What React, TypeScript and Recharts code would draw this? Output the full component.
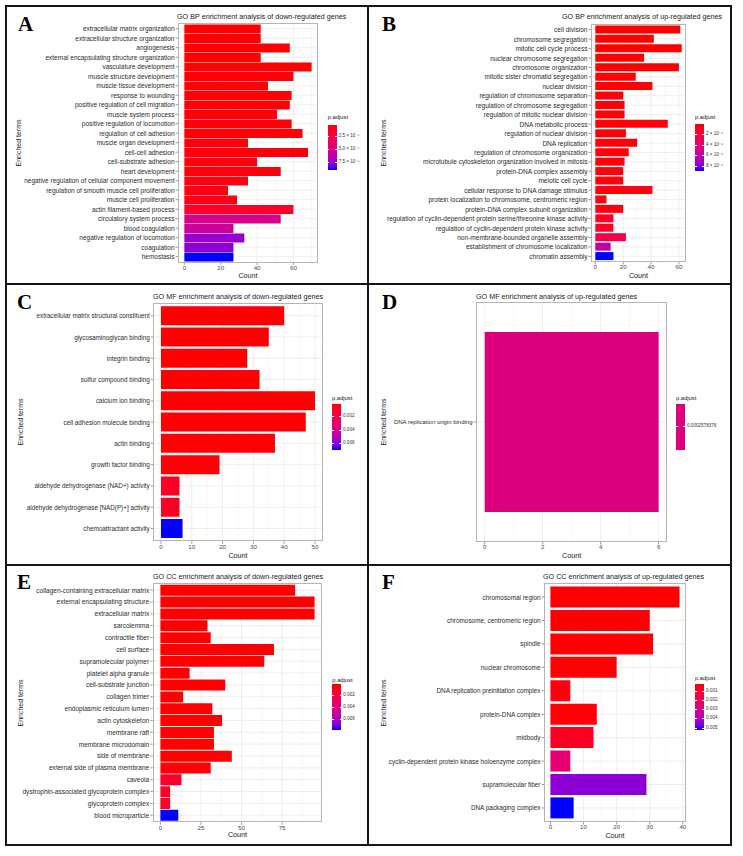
import { BarChart, Bar, XAxis, YAxis, CartesianGrid, Cell } from "recharts";

const SANS = '"Liberation Sans", Arial, Helvetica, sans-serif';
const SERIF = '"Liberation Serif", "Times New Roman", serif';

// A: GO BP, down-regulated
const bpDownTerms = [
  "extracellular matrix organization",
  "extracellular structure organization",
  "angiogenesis",
  "external encapsulating structure organization",
  "vasculature development",
  "muscle structure development",
  "muscle tissue development",
  "response to wounding",
  "positive regulation of cell migration",
  "muscle system process",
  "positive regulation of locomotion",
  "regulation of cell adhesion",
  "muscle organ development",
  "cell-cell adhesion",
  "cell-substrate adhesion",
  "heart development",
  "negative regulation of cellular component movement",
  "regulation of smooth muscle cell proliferation",
  "muscle cell proliferation",
  "actin filament-based process",
  "circulatory system process",
  "blood coagulation",
  "negative regulation of locomotion",
  "coagulation",
  "hemostasis",
];
const bpDownCounts = [42, 42, 58, 42, 70, 60, 46, 59, 58, 51, 59, 65, 35, 68, 40, 53, 35, 24, 29, 60, 53, 27, 33, 27, 27];
const bpDownPadj = [
  0.4e-5, 0.4e-5, 0.45e-5, 0.45e-5, 0.5e-5, 0.5e-5, 0.55e-5, 0.55e-5, 0.6e-5, 0.6e-5, 0.65e-5, 0.65e-5, 0.7e-5,
  0.7e-5, 0.75e-5, 0.75e-5, 0.8e-5, 0.95e-5, 1.0e-5, 1.7e-5, 5.1e-5, 5.6e-5, 7.45e-5, 7.7e-5, 9.0e-5,
];
const bpDownTicks = [0, 20, 40, 60];
const bpDownLegendValues = [2.5e-5, 5.0e-5, 7.5e-5];
const bpDownLegendLabels = ["2.5 × 10⁻⁵", "5.0 × 10⁻⁵", "7.5 × 10⁻⁵"];

// B: GO BP, up-regulated
const bpUpTerms = [
  "cell division",
  "chromosome segregation",
  "mitotic cell cycle process",
  "nuclear chromosome segregation",
  "chromosome organization",
  "mitotic sister chromatid segregation",
  "nuclear division",
  "regulation of chromosome separation",
  "regulation of chromosome segregation",
  "regulation of mitotic nuclear division",
  "DNA metabolic process",
  "regulation of nuclear division",
  "DNA replication",
  "regulation of chromosome organization",
  "microtubule cytoskeleton organization involved in mitosis",
  "protein-DNA complex assembly",
  "meiotic cell cycle",
  "cellular response to DNA damage stimulus",
  "protein localization to chromosome, centromeric region",
  "protein-DNA complex subunit organization",
  "regulation of cyclin-dependent protein serine/threonine kinase activity",
  "regulation of cyclin-dependent protein kinase activity",
  "non-membrane-bounded organelle assembly",
  "establishment of chromosome localization",
  "chromatin assembly",
];
const bpUpCounts = [61, 42, 62, 35, 60, 29, 41, 20, 21, 21, 52, 22, 30, 24, 21, 20, 20, 41, 8, 20, 13, 13, 22, 11, 13];
const bpUpPadj = [
  0.1e-6, 0.12e-6, 0.12e-6, 0.15e-6, 0.15e-6, 0.2e-6, 0.2e-6, 0.25e-6, 0.25e-6, 0.3e-6, 0.3e-6, 0.35e-6, 0.35e-6,
  0.4e-6, 0.4e-6, 0.45e-6, 0.45e-6, 0.5e-6, 0.5e-6, 0.55e-6, 1.4e-6, 1.4e-6, 2.6e-6, 5.9e-6, 8.9e-6,
];
const bpUpTicks = [0, 20, 40, 60];
const bpUpLegendValues = [2e-6, 4e-6, 6e-6, 8e-6];
const bpUpLegendLabels = ["2 × 10⁻⁶", "4 × 10⁻⁶", "6 × 10⁻⁶", "8 × 10⁻⁶"];

// C: GO MF, down-regulated
const mfDownTerms = [
  "extracellular matrix structural constituent",
  "glycosaminoglycan binding",
  "integrin binding",
  "sulfur compound binding",
  "calcium ion binding",
  "cell adhesion molecule binding",
  "actin binding",
  "growth factor binding",
  "aldehyde dehydrogenase (NAD+) activity",
  "aldehyde dehydrogenase [NAD(P)+] activity",
  "chemoattractant activity",
];
const mfDownCounts = [40, 35, 28, 32, 50, 47, 37, 19, 6, 6, 7];
const mfDownPadj = [0.00002, 0.00003, 0.00005, 0.00006, 0.00008, 0.0001, 0.00012, 0.00015, 0.00085, 0.00085, 0.0071];
const mfDownTicks = [0, 10, 20, 30, 40, 50];
const mfDownLegendValues = [0.002, 0.004, 0.006];
const mfDownLegendLabels = ["0.002", "0.004", "0.006"];

// D: GO MF, up-regulated
const mfUpTerms = ["DNA replication origin binding"];
const mfUpCounts = [6];
const mfUpPadj = [0.0002578376];
const mfUpTicks = [0, 2, 4, 6];
const mfUpLegendValues = [0.0002578376];
const mfUpLegendLabels = ["0.0002578376"];

// E: GO CC, down-regulated
const ccDownTerms = [
  "collagen-containing extracellular matrix",
  "external encapsulating structure",
  "extracellular matrix",
  "sarcolemma",
  "contractile fiber",
  "cell surface",
  "supramolecular polymer",
  "platelet alpha granule",
  "cell-substrate junction",
  "collagen trimer",
  "endoplasmic reticulum lumen",
  "actin cytoskeleton",
  "membrane raft",
  "membrane microdomain",
  "side of membrane",
  "external side of plasma membrane",
  "caveola",
  "dystrophin-associated glycoprotein complex",
  "glycoprotein complex",
  "blood microparticle",
];
const ccDownCounts = [83, 95, 95, 29, 31, 70, 64, 18, 40, 14, 32, 38, 33, 33, 44, 31, 13, 6, 6, 11];
const ccDownPadj = [
  0.00026, 0.00026, 0.00027, 0.00028, 0.00028, 0.00029, 0.0003, 0.0003, 0.00031, 0.00032, 0.00033, 0.00034, 0.00035,
  0.00035, 0.00036, 0.00045, 0.0014, 0.0012, 0.0012, 0.0078,
];
const ccDownTicks = [0, 25, 50, 75];
const ccDownLegendValues = [0.002, 0.004, 0.006];
const ccDownLegendLabels = ["0.002", "0.004", "0.006"];

// F: GO CC, up-regulated
const ccUpTerms = [
  "chromosomal region",
  "chromosome, centromeric region",
  "spindle",
  "nuclear chromosome",
  "DNA replication preinitiation complex",
  "protein-DNA complex",
  "midbody",
  "cyclin-dependent protein kinase holoenzyme complex",
  "supramolecular fiber",
  "DNA packaging complex",
];
const ccUpCounts = [39, 30, 31, 20, 6, 14, 13, 6, 29, 7];
const ccUpPadj = [0.00016, 0.00018, 0.0002, 0.00022, 0.00036, 0.00031, 0.00077, 0.0024, 0.00444, 0.0052];
const ccUpTicks = [0, 10, 20, 30, 40];
const ccUpLegendValues = [0.001, 0.002, 0.003, 0.004, 0.005];
const ccUpLegendLabels = ["0.001", "0.002", "0.003", "0.004", "0.005"];

// --- red -> blue gradient, interpolated in Lab (lightness and b* eased)
const toLin = (c: number) => {
  c /= 255;
  return c <= 0.04045 ? c / 12.92 : Math.pow((c + 0.055) / 1.055, 2.4);
};
const fromLin = (c: number) => {
  const v = c <= 0.0031308 ? 12.92 * c : 1.055 * Math.pow(Math.max(c, 0), 1 / 2.4) - 0.055;
  return Math.round(Math.min(1, Math.max(0, v)) * 255);
};
const WX = 0.95047;
const WZ = 1.08883;
function rgbToLab(r: number, g: number, b: number) {
  const R = toLin(r), G = toLin(g), B = toLin(b);
  const x = (0.4124 * R + 0.3576 * G + 0.1805 * B) / WX;
  const y = 0.2126 * R + 0.7152 * G + 0.0722 * B;
  const z = (0.0193 * R + 0.1192 * G + 0.9505 * B) / WZ;
  const f = (t: number) => (t > 0.008856 ? Math.cbrt(t) : 7.787 * t + 16 / 116);
  const fx = f(x), fy = f(y), fz = f(z);
  return [116 * fy - 16, 500 * (fx - fy), 200 * (fy - fz)];
}
function labToCss(L: number, a: number, bb: number) {
  const fy = (L + 16) / 116;
  const fx = fy + a / 500;
  const fz = fy - bb / 200;
  const inv = (t: number) => (t * t * t > 0.008856 ? t * t * t : (t - 16 / 116) / 7.787);
  const x = inv(fx) * WX, y = inv(fy), z = inv(fz) * WZ;
  const R = 3.2406 * x - 1.5372 * y - 0.4986 * z;
  const G = -0.9689 * x + 1.8758 * y + 0.0415 * z;
  const B = 0.0557 * x - 0.204 * y + 1.057 * z;
  return `rgb(${fromLin(R)},${fromLin(G)},${fromLin(B)})`;
}
const LOW = rgbToLab(255, 0, 0);
const HIGH = rgbToLab(0, 0, 255);
function gradColor(t: number) {
  const k = Math.min(1, Math.max(0, t));
  const kl = Math.pow(k, 1.8);
  const kb = Math.pow(k, 1.25);
  return labToCss(LOW[0] + (HIGH[0] - LOW[0]) * kl, LOW[1] + (HIGH[1] - LOW[1]) * k, LOW[2] + (HIGH[2] - LOW[2]) * kb);
}

type Rect = { l: number; r: number; t: number; b: number };
type PanelCfg = {
  id: string;
  letter: string;
  letterX: number;
  letterBase: number;
  title: string;
  titleX: number;
  titleY: number;
  terms: string[];
  counts: number[];
  padj: number[];
  ticks: number[];
  colLeft: number;
  plot: Rect;
  countY: number;
  enrichedX: number;
  labelSize: number;
  legend: { x: number; top: number; bottom: number; titleY: number; values: number[]; labels: string[] };
};

const panels: PanelCfg[] = [
  {
    id: "A", letter: "A", letterX: 18, letterBase: 31,
    title: "GO BP enrichment analysis of down-regulated genes", titleX: 177, titleY: 17,
    terms: bpDownTerms, counts: bpDownCounts, padj: bpDownPadj, ticks: bpDownTicks,
    colLeft: 8, plot: { l: 178, r: 318, t: 23.3, b: 262.7 }, countY: 275.3, enrichedX: 18, labelSize: 6.5,
    legend: { x: 327.7, top: 125, bottom: 170, titleY: 118, values: bpDownLegendValues, labels: bpDownLegendLabels },
  },
  {
    id: "B", letter: "B", letterX: 382, letterBase: 31,
    title: "GO BP enrichment analysis of up-regulated genes", titleX: 562, titleY: 17,
    terms: bpUpTerms, counts: bpUpCounts, padj: bpUpPadj, ticks: bpUpTicks,
    colLeft: 370, plot: { l: 591, r: 686, t: 24, b: 262 }, countY: 275.7, enrichedX: 383, labelSize: 6.55,
    legend: { x: 695, top: 124, bottom: 171, titleY: 118, values: bpUpLegendValues, labels: bpUpLegendLabels },
  },
  {
    id: "C", letter: "C", letterX: 17, letterBase: 309.5,
    title: "GO MF enrichment analysis of down-regulated genes", titleX: 153, titleY: 297,
    terms: mfDownTerms, counts: mfDownCounts, padj: mfDownPadj, ticks: mfDownTicks,
    colLeft: 8, plot: { l: 153.3, r: 322.7, t: 303, b: 541.3 }, countY: 555.7, enrichedX: 20, labelSize: 6.35,
    legend: { x: 332, top: 403.7, bottom: 450.3, titleY: 399, values: mfDownLegendValues, labels: mfDownLegendLabels },
  },
  {
    id: "D", letter: "D", letterX: 382, letterBase: 309,
    title: "GO MF enrichment analysis of up-regulated genes", titleX: 476, titleY: 297,
    terms: mfUpTerms, counts: mfUpCounts, padj: mfUpPadj, ticks: mfUpTicks,
    colLeft: 370, plot: { l: 476, r: 667.3, t: 302, b: 542 }, countY: 555.7, enrichedX: 383, labelSize: 6,
    legend: { x: 676, top: 403.7, bottom: 449.7, titleY: 399, values: mfUpLegendValues, labels: mfUpLegendLabels },
  },
  {
    id: "E", letter: "E", letterX: 17, letterBase: 589,
    title: "GO CC enrichment analysis of down-regulated genes", titleX: 153, titleY: 577,
    terms: ccDownTerms, counts: ccDownCounts, padj: ccDownPadj, ticks: ccDownTicks,
    colLeft: 8, plot: { l: 152.7, r: 322.3, t: 583, b: 822.3 }, countY: 835, enrichedX: 20, labelSize: 6.55,
    legend: { x: 332.3, top: 684.3, bottom: 730, titleY: 680.7, values: ccDownLegendValues, labels: ccDownLegendLabels },
  },
  {
    id: "F", letter: "F", letterX: 382, letterBase: 589,
    title: "GO CC enrichment analysis of up-regulated genes", titleX: 543, titleY: 577,
    terms: ccUpTerms, counts: ccUpCounts, padj: ccUpPadj, ticks: ccUpTicks,
    colLeft: 370, plot: { l: 544, r: 686, t: 583, b: 822 }, countY: 835.7, enrichedX: 383, labelSize: 6.4,
    legend: { x: 695, top: 683.7, bottom: 729.7, titleY: 679, values: ccUpLegendValues, labels: ccUpLegendLabels },
  },
];

// single-line category label (no wrapping)
function TermTick(props: any) {
  const { x, y, payload, size } = props;
  return (
    <text x={x} y={y} textAnchor="end" dominantBaseline="central" fontSize={size} fill="#2b2b2b" fontFamily={SANS}>
      {payload.value}
    </text>
  );
}

function Panel({ cfg }: { cfg: PanelCfg }) {
  const rows = cfg.terms.map((term, i) => ({ term, count: cfg.counts[i], padj: cfg.padj[i] }));
  const lo = Math.min(...cfg.padj);
  const hi = Math.max(...cfg.padj);
  const tOf = (p: number) => (hi > lo ? (p - lo) / (hi - lo) : 0.5);

  const maxCount = Math.max(...cfg.counts);
  const domain: [number, number] = [-0.05 * maxCount, 1.05 * maxCount];
  const step = cfg.ticks[1] - cfg.ticks[0];
  const minor = cfg.ticks.map((v) => v + step / 2).filter((v) => v < domain[1]);

  const { l, r, t, b } = cfg.plot;
  const mTop = 4;
  const axisH = 14;
  const width = r - cfg.colLeft + 3;
  const height = mTop + (b - t) + axisH;
  const band = (b - t) / (rows.length + 0.2);
  const pad = band * 0.1;

  // grid positions follow the chart's plot offset (linear x, banded y)
  const xPos = (off: any, v: number) => off.left + ((v - domain[0]) / (domain[1] - domain[0])) * off.width;
  const yPos = (off: any, i: number) => {
    const bw = (off.height - 2 * pad) / rows.length;
    return off.top + pad + bw * (i + 0.5);
  };

  const lg = cfg.legend;
  const lgH = lg.bottom - lg.top;
  const stops = Array.from({ length: 11 }, (_, i) => `${gradColor(hi > lo ? i / 10 : 0.5)} ${i * 10}%`).join(", ");

  const textBase = { position: "absolute" as const, whiteSpace: "nowrap" as const, fontFamily: SANS, lineHeight: 1 };

  return (
    <>
      <div style={{ position: "absolute", left: cfg.colLeft, top: t - mTop }}>
        <BarChart
          layout="vertical"
          width={width}
          height={height}
          data={rows}
          margin={{ top: mTop, right: 3, bottom: 0, left: 0 }}
          barCategoryGap="5%"
        >
          <CartesianGrid
            horizontal={false}
            stroke="#F3F3F3"
            strokeWidth={0.6}
            verticalCoordinatesGenerator={({ offset }: any) => minor.map((v) => xPos(offset, v))}
          />
          <CartesianGrid
            stroke="#EAEAEA"
            strokeWidth={0.8}
            verticalCoordinatesGenerator={({ offset }: any) => cfg.ticks.map((v) => xPos(offset, v))}
            horizontalCoordinatesGenerator={({ offset }: any) => rows.map((_, i) => yPos(offset, i))}
          />
          <XAxis
            type="number"
            dataKey="count"
            domain={domain}
            ticks={cfg.ticks}
            allowDataOverflow
            height={axisH}
            axisLine={false}
            tickSize={2.5}
            tickMargin={0.5}
            tickLine={{ stroke: "#555", strokeWidth: 0.6 }}
            tick={{ fontSize: 6.2, fill: "#4d4d4d", fontFamily: SANS }}
          />
          <YAxis
            type="category"
            dataKey="term"
            width={l - cfg.colLeft}
            interval={0}
            axisLine={false}
            tickSize={2.5}
            tickMargin={1}
            padding={{ top: pad, bottom: pad }}
            tickLine={{ stroke: "#555", strokeWidth: 0.6 }}
            tick={(p: any) => <TermTick {...p} size={cfg.labelSize} />}
          />
          <Bar dataKey="count" isAnimationActive={false}>
            {rows.map((row) => (
              <Cell key={row.term} fill={gradColor(tOf(row.padj))} />
            ))}
          </Bar>
        </BarChart>
      </div>
      {/* panel border */}
      <div
        style={{
          position: "absolute",
          left: l,
          top: t,
          width: r - l,
          height: b - t,
          border: "0.8px solid #b5b5b5",
          boxSizing: "border-box",
          pointerEvents: "none",
        }}
      />
      <div style={{ ...textBase, left: cfg.letterX, top: cfg.letterBase - 17.5, fontFamily: SERIF, fontWeight: "bold", fontSize: 21, color: "#000" }}>
        {cfg.letter}
      </div>
      <div style={{ ...textBase, left: cfg.titleX, top: cfg.titleY - 3.6, fontSize: 7.2, color: "#1a1a1a" }}>{cfg.title}</div>
      <div style={{ ...textBase, left: (l + r) / 2, top: cfg.countY - 3.6, fontSize: 7.2, color: "#1a1a1a", transform: "translateX(-50%)" }}>
        Count
      </div>
      <div
        style={{
          ...textBase,
          left: cfg.enrichedX,
          top: (t + b) / 2,
          fontSize: 7,
          color: "#1a1a1a",
          transform: "translate(-50%, -50%) rotate(-90deg)",
        }}
      >
        Enriched terms
      </div>
      {/* colour bar legend */}
      <div style={{ ...textBase, left: lg.x, top: lg.titleY - 3, fontSize: 5.8, color: "#1a1a1a" }}>p.adjust</div>
      <div
        style={{
          position: "absolute",
          left: lg.x,
          top: lg.top,
          width: 9,
          height: lgH,
          background: `linear-gradient(to bottom, ${stops})`,
        }}
      />
      {lg.values.map((v, i) => {
        const y = lg.top + tOf(v) * lgH;
        return (
          <div key={lg.labels[i]}>
            <div style={{ position: "absolute", left: lg.x, top: y - 0.3, width: 1.8, height: 0.6, background: "#fff" }} />
            <div style={{ position: "absolute", left: lg.x + 7.2, top: y - 0.3, width: 1.8, height: 0.6, background: "#fff" }} />
            <div style={{ ...textBase, left: lg.x + 11, top: y - 2.3, fontSize: 4.6, color: "#333" }}>{lg.labels[i]}</div>
          </div>
        );
      })}
    </>
  );
}

export default function App() {
  const line = "#151515";
  return (
    <div
      style={{
        position: "absolute",
        left: 0,
        top: 0,
        width: 743,
        height: 856,
        background: "#fff",
        overflow: "hidden",
      }}
    >
      <div style={{ position: "absolute", left: 5, top: 5, width: 727, height: 841, border: `2px solid ${line}`, boxSizing: "border-box" }} />
      <div style={{ position: "absolute", left: 367, top: 5, width: 2, height: 841, background: line }} />
      <div style={{ position: "absolute", left: 5, top: 283, width: 727, height: 2, background: line }} />
      <div style={{ position: "absolute", left: 5, top: 564, width: 727, height: 2, background: line }} />
      {panels.map((p) => (
        <Panel key={p.id} cfg={p} />
      ))}
    </div>
  );
}
